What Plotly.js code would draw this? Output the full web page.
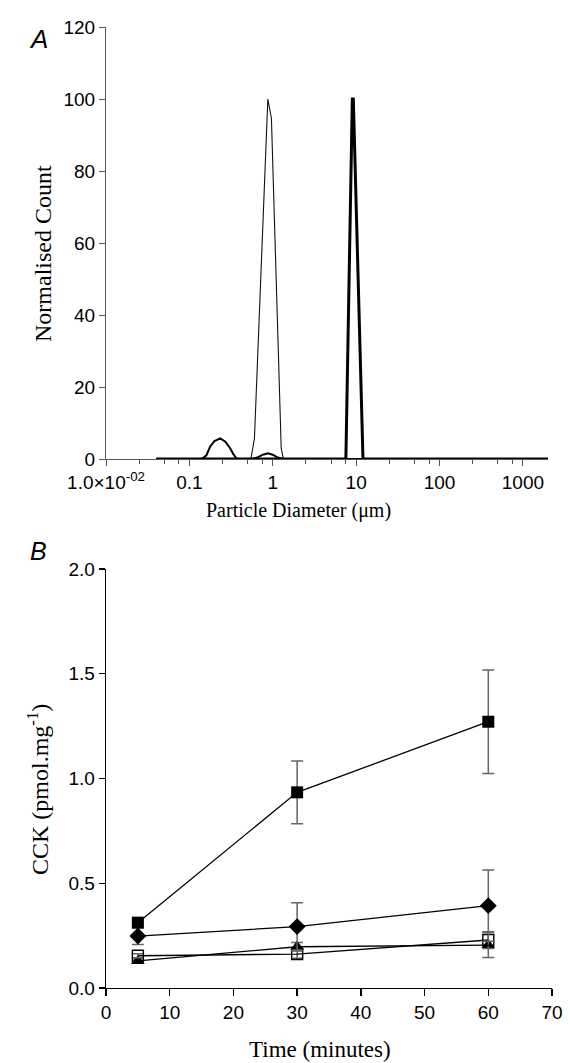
<!DOCTYPE html>
<html>
<head>
<meta charset="utf-8">
<script src="https://cdn.plot.ly/plotly-3.0.1.min.js"></script>
<style>html,body{margin:0;padding:0;background:#fff;}#chart{width:570px;height:1063px;}</style>
</head>
<body>
<div id="chart"></div>
<script>
// ---- Panel A: particle size distributions ----
const thinX = [0.04, 0.546, 0.603, 0.873, 0.964, 1.262, 1.34, 2000];
const thinY = [0, 0, 5.7, 100, 94.6, 3, 0, 0];

const medX = [0.04, 0.141, 0.16, 0.177, 0.2, 0.234, 0.27, 0.308, 0.34, 0.371, 0.561, 0.65, 0.76, 0.873, 1.0, 1.15, 1.34, 2000];
const medY = [0, 0, 1.0, 3.4, 5.0, 5.75, 4.8, 3.0, 1.2, 0, 0, 0.4, 1.2, 1.6, 1.2, 0.4, 0, 0];

const thickX = [0.04, 7.53, 9.0, 9.25, 12.08, 2000];
const thickY = [0, 0, 100, 100, 0, 0];

const aTickVals = [0.01, 0.1, 1, 10, 100, 1000];
const aTickText = ['1.0×10<sup>-02</sup>', '0.1', '1', '10', '100', '1000'];
const aMinorVals = [0.025, 0.05, 0.075, 0.25, 0.5, 0.75, 2.5, 5, 7.5, 25, 50, 75, 250, 500, 750];
const aYTicks = [0, 20, 40, 60, 80, 100, 120];
const aXTitle = 'Particle Diameter (μm)';
const aYTitle = 'Normalised Count';

// ---- Panel B: CCK release over time ----
const timeMin = [5, 30, 60];
const filledSq = [0.312, 0.934, 1.271];
const filledSqErr = [0.01, 0.15, 0.247];
const diamond = [0.248, 0.293, 0.393];
const diamondErr = [0.04, 0.114, 0.17];
const openSq = [0.154, 0.162, 0.229];
const openSqErr = [0.01, 0.02, 0.04];
const triangle = [0.129, 0.197, 0.205];
const triangleErr = [0.01, 0.02, 0.06];
const bXTicks = [0, 10, 20, 30, 40, 50, 60, 70];
const bYTicks = [0.0, 0.5, 1.0, 1.5, 2.0];
const bYText = ['0.0', '0.5', '1.0', '1.5', '2.0'];
const bXTitle = 'Time (minutes)';
const bYTitle = 'CCK (pmol.mg<sup>-1</sup>)';

const W = 570, H = 1063;
const px = v => v / W;
const py = v => 1 - v / H;

const errStyle = arr => ({type: 'data', array: arr, visible: true, color: '#666', thickness: 1.5, width: 6});

const traces = [
  {x: thinX, y: thinY, xaxis: 'x', yaxis: 'y', mode: 'lines', line: {color: '#111', width: 1.1}, showlegend: false},
  {x: medX, y: medY, xaxis: 'x', yaxis: 'y', mode: 'lines', line: {color: '#000', width: 2}, showlegend: false},
  {x: thickX, y: thickY, xaxis: 'x', yaxis: 'y', mode: 'lines', line: {color: '#000', width: 3}, showlegend: false},

  {x: timeMin, y: triangle, error_y: errStyle(triangleErr), xaxis: 'x2', yaxis: 'y2', mode: 'lines+markers',
   line: {color: '#000', width: 1.3}, marker: {symbol: 'triangle-up', size: 12, color: '#000'}, showlegend: false},
  {x: timeMin, y: openSq, error_y: errStyle(openSqErr), xaxis: 'x2', yaxis: 'y2', mode: 'lines+markers',
   line: {color: '#000', width: 1.3}, marker: {symbol: 'square-open', size: 11, color: '#000', line: {width: 1.4}}, showlegend: false},
  {x: timeMin, y: diamond, error_y: errStyle(diamondErr), xaxis: 'x2', yaxis: 'y2', mode: 'lines+markers',
   line: {color: '#000', width: 1.3}, marker: {symbol: 'diamond', size: 13, color: '#000'}, showlegend: false},
  {x: timeMin, y: filledSq, error_y: errStyle(filledSqErr), xaxis: 'x2', yaxis: 'y2', mode: 'lines+markers',
   line: {color: '#000', width: 1.3}, marker: {symbol: 'square', size: 12, color: '#000'}, showlegend: false}
];

const tickFont = {family: '"Liberation Sans", Arial, sans-serif', size: 19, color: '#000'};
const serif = '"Liberation Serif", "Times New Roman", serif';

const layout = {
  width: W, height: H,
  margin: {l: 0, r: 0, t: 0, b: 0},
  paper_bgcolor: '#fff', plot_bgcolor: '#fff',
  showlegend: false,
  xaxis: {
    type: 'log', domain: [px(106), px(548)], anchor: 'y',
    range: [-2, Math.log10(2000)],
    tickmode: 'array', tickvals: aTickVals, ticktext: aTickText,
    ticks: 'outside', ticklen: 6, tickwidth: 1, tickcolor: '#555',
    minor: {tickmode: 'array', tickvals: aMinorVals, ticks: 'outside', ticklen: 4, tickwidth: 1, tickcolor: '#555'},
    showline: true, linecolor: '#555', linewidth: 1, showgrid: false, zeroline: false,
    tickfont: tickFont
  },
  yaxis: {
    domain: [py(459), py(27)], anchor: 'x',
    range: [0, 120],
    tickmode: 'array', tickvals: aYTicks,
    ticks: 'outside', ticklen: 6, tickwidth: 1, tickcolor: '#555',
    showline: true, linecolor: '#555', linewidth: 1, showgrid: false, zeroline: false,
    tickfont: tickFont
  },
  xaxis2: {
    domain: [px(106), px(552)], anchor: 'y2',
    range: [0, 70],
    tickmode: 'array', tickvals: bXTicks,
    ticks: 'outside', ticklen: 7, tickwidth: 1.3, tickcolor: '#000',
    showline: true, linecolor: '#000', linewidth: 1.3, showgrid: false, zeroline: false,
    tickfont: tickFont
  },
  yaxis2: {
    domain: [py(988), py(569)], anchor: 'x2',
    range: [0, 2.0],
    tickmode: 'array', tickvals: bYTicks, ticktext: bYText,
    ticks: 'outside', ticklen: 6, tickwidth: 1.3, tickcolor: '#000',
    showline: true, linecolor: '#000', linewidth: 1.3, showgrid: false, zeroline: false,
    tickfont: tickFont
  },
  annotations: [
    {text: 'A', xref: 'paper', yref: 'paper', x: px(27), y: py(22), showarrow: false,
     font: {family: '"Liberation Sans", Arial, sans-serif', size: 26, style: 'italic', color: '#000'}},
    {text: 'B', xref: 'paper', yref: 'paper', x: px(28), y: py(551), showarrow: false,
     font: {family: '"Liberation Sans", Arial, sans-serif', size: 25, style: 'italic', color: '#000'}},
    {text: aXTitle, xref: 'paper', yref: 'paper', x: px(298), y: py(510), showarrow: false,
     xanchor: 'center', yanchor: 'middle', font: {family: serif, size: 20, color: '#000'}},
    {text: aYTitle, xref: 'paper', yref: 'paper', x: px(43), y: py(254), showarrow: false, textangle: -90,
     xanchor: 'center', yanchor: 'middle', font: {family: serif, size: 24, color: '#000'}},
    {text: bXTitle, xref: 'paper', yref: 'paper', x: px(320), y: py(1049), showarrow: false,
     xanchor: 'center', yanchor: 'middle', font: {family: serif, size: 23, color: '#000'}},
    {text: bYTitle, xref: 'paper', yref: 'paper', x: px(38), y: py(790), showarrow: false, textangle: -90,
     xanchor: 'center', yanchor: 'middle', font: {family: serif, size: 24, color: '#000'}}
  ]
};

Plotly.newPlot('chart', traces, layout, {staticPlot: true, displayModeBar: false});
</script>
</body>
</html>
